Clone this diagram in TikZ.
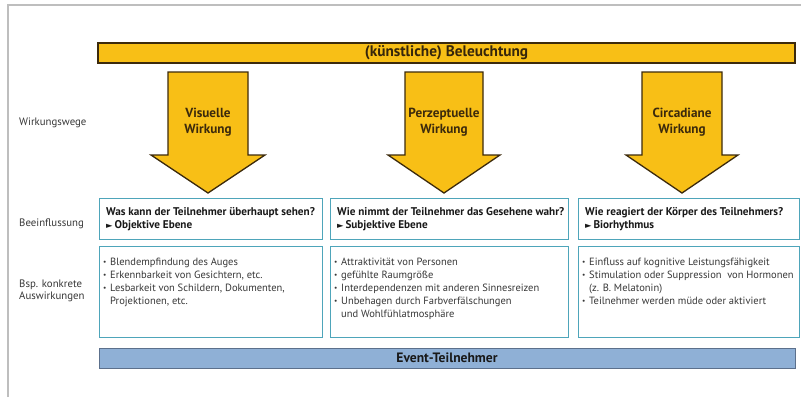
\documentclass[tikz,border=0pt]{standalone}
\usepackage{fontspec}
\setmainfont{PT Sans}
\newfontfamily\symfont{DejaVu Sans}

\definecolor{goldfill}{RGB}{248,191,22}
\definecolor{goldline}{RGB}{60,42,12}
\definecolor{tealline}{RGB}{78,165,186}
\definecolor{barfill}{RGB}{143,176,214}
\definecolor{barline}{RGB}{92,112,140}
\definecolor{framegray}{RGB}{190,190,190}
\definecolor{bodytext}{RGB}{55,55,55}
\definecolor{headtext}{RGB}{25,25,25}

\newcommand{\bul}{\makebox[7pt][l]{\raisebox{1.2pt}{\scalebox{0.7}{•}}}}
\newcommand{\hang}{\hspace*{7pt}}
\newcommand{\pointer}{{\symfont\scalebox{0.75}{►}}\,}

\begin{document}
\begin{tikzpicture}[x=1pt,y=-1pt,
  goldbar/.style={draw=goldline, fill=goldfill, line width=1.3pt, inner sep=0pt,
    font=\bfseries\fontsize{15.3}{16}\selectfont, text=goldline!90!black},
  goldarrow/.style={draw=goldline, fill=goldfill, line width=1.3pt, line join=miter},
  arrowtext/.style={font=\bfseries\fontsize{13.2}{16.5}\selectfont, align=center,
    text=goldline, inner sep=0pt},
  headbox/.style={draw=tealline, line width=1.2pt, minimum height=41pt, inner sep=0pt},
  headline/.style={font=\bfseries\fontsize{11.2}{13.5}\selectfont, align=left,
    text=headtext, inner sep=0pt},
  bodybox/.style={draw=tealline, line width=1.2pt, minimum height=91pt, inner sep=0pt},
  bodyline/.style={font=\fontsize{10.5}{12.9}\selectfont, align=left,
    text=bodytext, inner sep=0pt, anchor=north west},
  sidelabel/.style={font=\fontsize{10.8}{12.5}\selectfont, align=left,
    text=bodytext, inner sep=0pt, anchor=west},
  bluebar/.style={draw=barline, fill=barfill, line width=1pt, inner sep=0pt,
    font=\bfseries\fontsize{13.6}{15}\selectfont, text=headtext}
]
\useasboundingbox (0,0) rectangle (801,397);
\fill[white] (0,0) rectangle (801,397);

% page frame
\draw[framegray, line width=1.4pt] (8,397) -- (8,5) -- (801,5);

% light source
\node[goldbar, minimum width=697pt, minimum height=20pt] (licht) at (446.5,53)
  {(künstliche) Beleuchtung};

% three paths of effect
\draw[goldarrow] (168,72) -- (248,72) -- (248,155) -- (265,155) -- (208,193)
  -- (151,155) -- (168,155) -- cycle;
\node[arrowtext] (visuell) at (208,122) {Visuelle\\Wirkung};

\draw[goldarrow] (405,72) -- (483,72) -- (483,155) -- (500,155) -- (444,193)
  -- (388,155) -- (405,155) -- cycle;
\node[arrowtext] (perzept) at (444,122) {Perzeptuelle\\Wirkung};

\draw[goldarrow] (642,72) -- (722,72) -- (722,155) -- (738,155) -- (682,193)
  -- (626,155) -- (642,155) -- cycle;
\node[arrowtext] (circa) at (682,122) {Circadiane\\Wirkung};

% row labels
\node[sidelabel] (lwege) at (19,123) {Wirkungswege};
\node[sidelabel] (lbeein) at (19,224) {Beeinflussung};
\node[sidelabel] (lbsp) at (19,291) {Bsp. konkrete\\Auswirkungen};

% influence boxes
\node[headbox, minimum width=223pt, anchor=north west] (h1) at (99,198) {};
\node[headline, anchor=west] at ([xshift=7pt]h1.west)
  {Was kann der Teilnehmer überhaupt sehen?\\\pointer Objektive Ebene};

\node[headbox, minimum width=238pt, anchor=north west] (h2) at (330,198) {};
\node[headline, anchor=west] at ([xshift=7pt]h2.west)
  {Wie nimmt der Teilnehmer das Gesehene wahr?\\\pointer Subjektive Ebene};

\node[headbox, minimum width=221pt, anchor=north west] (h3) at (578,198) {};
\node[headline, anchor=west] at ([xshift=7pt]h3.west)
  {Wie reagiert der Körper des Teilnehmers?\\\pointer Biorhythmus};

% example boxes
\node[bodybox, minimum width=223pt, anchor=north west] (b1) at (99,246) {};
\node[bodyline, font=\fontsize{10.5}{13}\selectfont] at ([shift={(4,12)}]b1.north west)
  {\bul Blendempfindung des Auges\\
   \bul Erkennbarkeit von Gesichtern, etc.\\
   \bul Lesbarkeit von Schildern, Dokumenten,\\
   \hang Projektionen, etc.};

\node[bodybox, minimum width=238pt, anchor=north west] (b2) at (330,246) {};
\node[bodyline, font=\fontsize{10.5}{13}\selectfont] at ([shift={(4,12)}]b2.north west)
  {\bul Attraktivität von Personen\\
   \bul gefühlte Raumgröße\\
   \bul Interdependenzen mit anderen Sinnesreizen\\
   \bul Unbehagen durch Farbverfälschungen\\
   \hang und Wohlfühlatmosphäre};

\node[bodybox, minimum width=221pt, anchor=north west] (b3) at (578,246) {};
\node[bodyline, font=\fontsize{10.5}{13}\selectfont] at ([shift={(4,12)}]b3.north west)
  {\bul Einfluss auf kognitive Leistungsfähigkeit\\
   \bul Stimulation oder Suppression\ \ von Hormonen\\
   \hang (z. B. Melatonin)\\
   \bul Teilnehmer werden müde oder aktiviert};

% audience
\node[bluebar, minimum width=696pt, minimum height=20pt] (event) at (447,358)
  {Event-Teilnehmer};
\end{tikzpicture}
\end{document}
